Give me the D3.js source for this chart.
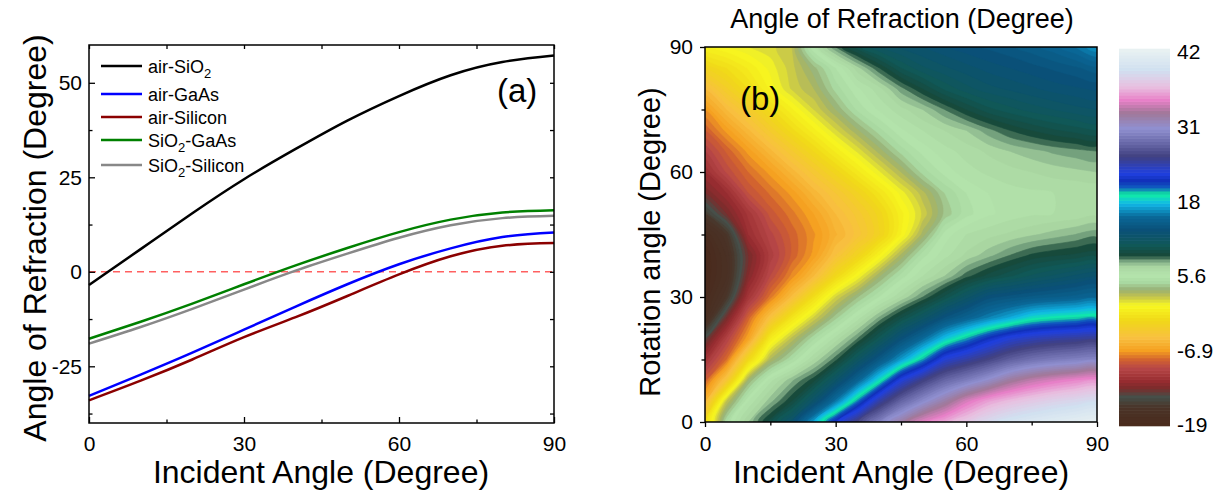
<!DOCTYPE html>
<html>
<head>
<meta charset="utf-8">
<script src="https://cdn.jsdelivr.net/npm/d3@7"></script>
<style>
body { margin: 0; background: #fff; }
text { font-family: "Liberation Sans", Arial, sans-serif; fill: #000; }
</style>
</head>
<body>
<svg id="fig" width="1224" height="497"></svg>
<script>
// ---- panel (a): refraction angle vs incident angle ----
var incA = [0, 10, 20, 30, 40, 50, 60, 70, 80, 90];
var airSiO2 = [-3.5, 6, 15.5, 24.5, 32.5, 40, 46.5, 52, 55.5, 57.2];
var airGaAs = [-32.8, -27.2, -21.4, -15.3, -9.2, -3.3, 2, 6.2, 9.2, 10.4];
var airSi = [-34, -28.8, -23.2, -17.3, -12, -6.4, -0.7, 4.1, 6.9, 7.6];
var sio2GaAs = [-17.7, -13.2, -8.4, -3.3, 1.7, 6.3, 10.5, 13.8, 15.7, 16.3];
var sio2Si = [-19, -14.6, -9.8, -4.7, 0.3, 4.8, 9, 12.3, 14.2, 14.8];

var xTicksA = [0, 30, 60, 90];
var xMinorA = [15, 45, 75];
var yTicksA = [-25, 0, 25, 50];
var yMinorA = [-37.5, -12.5, 12.5, 37.5];

// ---- panel (b): refraction angle map (rows = rotation angle, cols = incident angle) ----
var incB = [0, 5, 10, 15, 20, 25, 30, 35, 40, 45, 50, 55, 60, 65, 70, 75, 80, 85, 90];
var rotB = [0, 5, 10, 15, 20, 25, 30, 35, 40, 45, 50, 55, 60, 65, 70, 75, 80, 85, 90];
var refrMap = [
  [-2, 4.5, 7, 9.3, 11.8, 16.4, 21.1, 24.8, 28.1, 31, 33.5, 35, 36.5, 38, 39.2, 40, 40.6, 41.1, 41.5],
  [-5.5, 2, 5.5, 7.3, 9, 11.7, 15.2, 19.3, 23.5, 26.5, 28.8, 30.9, 33.2, 34.8, 35.8, 36.6, 37.3, 37.8, 38.3],
  [-8.5, -4, 3, 5.8, 7.4, 8.8, 11.4, 14.4, 17.9, 22, 24.5, 26.6, 28, 29.5, 31.3, 32.5, 33.3, 33.9, 34.3],
  [-11, -8, -2, 2.5, 4.5, 6.5, 8.3, 10.9, 13.5, 16.2, 19, 22.2, 23.5, 24.8, 26.2, 27.2, 27.8, 28.2, 28.5],
  [-14, -10, -6.5, -0.5, 2.2, 4.4, 6.2, 8, 10.2, 12.7, 14.8, 17.2, 19, 20.8, 22.2, 23, 23.5, 23.8, 24],
  [-17.5, -13, -8.3, -4.5, -1, 1.6, 3.8, 5.7, 7.6, 9.4, 11.1, 13, 14.3, 15.5, 16.6, 17.8, 18.3, 18.6, 18.8],
  [-18.5, -15.9, -10.9, -7.8, -4.8, -1.5, 1.5, 3.4, 5, 6.5, 8, 9.6, 11.2, 12.7, 13.2, 13.6, 13.9, 14.2, 14.5],
  [-19, -17, -12.5, -9.5, -7.3, -5, -2, 0.5, 2.9, 4.7, 6, 7, 8.3, 9.2, 9.9, 10.6, 11.1, 11.6, 12],
  [-19, -16.9, -13, -10.3, -8.4, -6.8, -4.5, -2.5, 0, 2.6, 4.8, 5.8, 6.6, 7.3, 8, 8.6, 8.9, 9.1, 9.3],
  [-18, -16, -11.5, -9.7, -8.3, -7.1, -5.6, -4.3, -2.6, 0, 2.7, 5.2, 6, 6.3, 6.6, 6.9, 7.2, 7.5, 7.8],
  [-15.5, -13, -10.8, -8.8, -7.7, -6.5, -5, -3.8, -2.3, -0.2, 1.6, 3.6, 4.8, 5.4, 5.7, 5.9, 6, 6.1, 6.3],
  [-13, -11.5, -9, -7.9, -6.8, -5.3, -4, -2.6, -1, 0.7, 2.3, 4, 5, 5.5, 5.8, 5.9, 6, 6, 6],
  [-11.5, -9.4, -8, -6.8, -5.3, -3.8, -2.3, -0.7, 0.9, 2.5, 4.2, 5.2, 5.8, 6.1, 6.3, 6.5, 6.7, 6.85, 7],
  [-10, -8.4, -6.8, -5.2, -3.6, -2, -0.4, 1.1, 2.7, 4.2, 5.2, 5.8, 6.2, 6.6, 7, 7.3, 7.6, 7.8, 8],
  [-8.5, -6.8, -5.1, -3.4, -1.7, -0.2, 1.4, 2.9, 4.3, 5.4, 6, 6.5, 7, 7.8, 8.5, 9, 9.4, 9.7, 10],
  [-7, -5, -3.4, -1.7, -0.1, 1.5, 3, 4.6, 5.6, 6.3, 7, 8, 9, 9.8, 10.3, 10.7, 11, 11.3, 11.5],
  [-5, -3.1, -1.5, 0.1, 1.6, 2.5, 4.2, 5.4, 6.3, 7.8, 9, 10.1, 10.8, 11.3, 11.6, 11.9, 12.2, 12.4, 12.6],
  [-2.5, -1.5, -0.4, 0.7, 1.8, 3.3, 5, 6.8, 8.5, 10, 10.9, 11.4, 11.8, 12.2, 12.5, 12.8, 13.1, 13.4, 13.8],
  [0, 0.5, 1, 1.3, 2, 5.5, 8, 9.8, 11, 11.6, 12, 12.4, 12.8, 13.1, 13.4, 13.8, 14.3, 15, 16]
];
var xTicksB = [0, 30, 60, 90];
var xMinorB = [15, 45, 75];
var cbarMin = -19, cbarMax = 42;
var cbarLabels = ["42", "31", "18", "5.6", "-6.9", "-19"];

// colour map stops (fraction along bar, bottom = 0)
var cmapPos = [0, 0.05, 0.077, 0.10, 0.12, 0.155, 0.175, 0.20, 0.235, 0.28, 0.32, 0.345, 0.362, 0.38, 0.40, 0.425, 0.438, 0.452, 0.48, 0.52, 0.555, 0.59, 0.615, 0.632, 0.65, 0.67, 0.715, 0.75, 0.79, 0.83, 0.865, 0.90, 0.945, 1];
var cmapCol = ["#4a2a1c", "#4a3428", "#45504a", "#7a2c2c", "#982c30", "#b84848", "#d06030", "#f5a020", "#f8c040", "#f0d818", "#f8f820", "#c0c050", "#98b074", "#a8d8a0", "#b4e4ac", "#a8d4a0", "#78a480", "#184838", "#105858", "#0a5078", "#0a6898", "#10b8e8", "#10f0a0", "#1060c0", "#1030b8", "#2040e0", "#404080", "#6868a8", "#9090d0", "#a07898", "#e880c8", "#e8c0e0", "#d0e0f0", "#eaf2f2"];

var svg = d3.select("#fig");
var font = "'Liberation Sans', Arial, sans-serif";
var fmt = function(d) { return String(d); };

function styleAxis(g) {
	g.select(".domain").remove();
	g.selectAll("line").attr("stroke", "#000").attr("stroke-width", 1.3);
	g.selectAll("text").attr("font-size", 21).attr("font-family", font).attr("fill", "#000");
}
// minor ticks: no labels at all
function minorAxis(g) {
	styleAxis(g);
	g.selectAll("text").remove();
}

// ================= panel (a) =================
var xa = d3.scaleLinear().domain([0, 90]).range([89, 554]);
var ya = d3.scaleLinear().domain([-40, 60]).range([423, 45]);
var ga = svg.append("g");

var series = [
	{ vals: airSiO2, color: "#000000" },
	{ vals: airGaAs, color: "#0000ff" },
	{ vals: airSi, color: "#8b0000" },
	{ vals: sio2GaAs, color: "#008000" },
	{ vals: sio2Si, color: "#888888" }
];

// zero line
ga.append("line")
	.attr("x1", xa(0)).attr("x2", xa(90))
	.attr("y1", ya(0)).attr("y2", ya(0))
	.attr("stroke", "#ff6060").attr("stroke-width", 1.5)
	.attr("stroke-dasharray", "7,5");

var line = d3.line()
	.curve(d3.curveNatural)
	.x(function(d, i) { return xa(incA[i]); })
	.y(function(d) { return ya(d); });

// back to front, black on top
[4, 3, 2, 1, 0].forEach(function(k) {
	ga.append("path")
		.datum(series[k].vals)
		.attr("fill", "none")
		.attr("stroke", series[k].color)
		.attr("stroke-width", 2.5)
		.attr("d", line);
});

ga.append("g").attr("transform", "translate(0,423)")
	.call(d3.axisBottom(xa).tickValues(xTicksA).tickSize(-6).tickPadding(13).tickFormat(fmt))
	.call(styleAxis);
ga.append("g").attr("transform", "translate(0,423)")
	.call(d3.axisBottom(xa).tickValues(xMinorA).tickSize(-3.5))
	.call(minorAxis);
ga.append("g").attr("transform", "translate(0,45)")
	.call(d3.axisTop(xa).tickValues(xTicksA.concat(xMinorA)).tickSize(-4))
	.call(minorAxis);
ga.append("g").attr("transform", "translate(89,0)")
	.call(d3.axisLeft(ya).tickValues(yTicksA).tickSize(-6).tickPadding(7).tickFormat(fmt))
	.call(styleAxis);
ga.append("g").attr("transform", "translate(89,0)")
	.call(d3.axisLeft(ya).tickValues(yMinorA).tickSize(-3.5))
	.call(minorAxis);
ga.append("g").attr("transform", "translate(554,0)")
	.call(d3.axisRight(ya).tickValues(yTicksA.concat(yMinorA)).tickSize(-4))
	.call(minorAxis);

ga.append("rect")
	.attr("x", 89).attr("y", 45).attr("width", 554 - 89).attr("height", 423 - 45)
	.attr("fill", "none").attr("stroke", "#000").attr("stroke-width", 1.5);

// legend
var legY = [66, 94, 117, 140, 165];
var legName = [["air-SiO", "2", ""], ["air-GaAs"], ["air-Silicon"], ["SiO", "2", "-GaAs"], ["SiO", "2", "-Silicon"]];
legName.forEach(function(nm, i) {
	ga.append("line")
		.attr("x1", 101).attr("x2", 142).attr("y1", legY[i]).attr("y2", legY[i])
		.attr("stroke", series[i].color).attr("stroke-width", 2.5);
	var t = ga.append("text").attr("x", 148).attr("y", legY[i] + 6.5).attr("font-size", 18);
	t.append("tspan").text(nm[0]);
	if (nm.length > 1) {
		t.append("tspan").attr("dy", 5).attr("font-size", 13).text(nm[1]);
		t.append("tspan").attr("dy", -5).text(nm[2]);
	}
});

ga.append("text").attr("x", 497).attr("y", 102).attr("font-size", 33).text("(a)");

ga.append("text")
	.attr("x", 321).attr("y", 483)
	.attr("text-anchor", "middle").attr("font-size", 32)
	.text("Incident Angle (Degree)");
ga.append("text")
	.attr("transform", "translate(35,238) rotate(-90)")
	.attr("dy", "0.35em")
	.attr("text-anchor", "middle").attr("font-size", 32)
	.text("Angle of Refraction (Degree)");

// ================= panel (b) =================
var xb = d3.scaleLinear().domain([0, 90]).range([705, 1097]);
var yb = d3.scaleLinear().domain([0, 90]).range([422, 47]);
var gb = svg.append("g");

var cmap = d3.scaleLinear()
	.domain(cmapPos.map(function(t) { return cbarMin + (cbarMax - cbarMin) * t; }))
	.range(cmapCol)
	.clamp(true);

var step = 0.5;
var levels = d3.range(cbarMin, cbarMax, step);

var flat = [];
refrMap.forEach(function(row) { row.forEach(function(v) { flat.push(v); }); });

var contours = d3.contours()
	.size([incB.length, rotB.length])
	.thresholds(levels)(flat);

var dInc = incB[1] - incB[0], dRot = rotB[1] - rotB[0];
// contour rings drawn as closed catmull-rom curves so the iso lines come out round
var ringLine = d3.line().curve(d3.curveCatmullRomClosed.alpha(0.5));
function contourPath(mp) {
	var s = "";
	mp.coordinates.forEach(function(poly) {
		poly.forEach(function(ring) {
			var pts = ring.slice(0, -1).map(function(p) {
				return [xb(incB[0] + (p[0] - 0.5) * dInc), yb(rotB[0] + (p[1] - 0.5) * dRot)];
			});
			if (pts.length > 2) s += ringLine(pts);
		});
	});
	return s;
}

gb.append("clipPath").attr("id", "mapclip")
	.append("rect")
	.attr("x", 705).attr("y", 47).attr("width", 1097 - 705).attr("height", 422 - 47);

gb.append("g").attr("clip-path", "url(#mapclip)")
	.selectAll("path")
	.data(contours)
	.enter().append("path")
	.attr("d", contourPath)
	.attr("fill", function(d) { return cmap(d.value + step / 2); })
	.attr("stroke", function(d) { return cmap(d.value + step / 2); })
	.attr("stroke-width", 0.6);

gb.append("g").attr("transform", "translate(0,422)")
	.call(d3.axisBottom(xb).tickValues(xTicksB).tickSize(5).tickPadding(9).tickFormat(fmt))
	.call(styleAxis);
gb.append("g").attr("transform", "translate(0,422)")
	.call(d3.axisBottom(xb).tickValues(xMinorB).tickSize(3.5))
	.call(minorAxis);
gb.append("g").attr("transform", "translate(705,0)")
	.call(d3.axisLeft(yb).tickValues(xTicksB).tickSize(5).tickPadding(7).tickFormat(fmt))
	.call(styleAxis);
gb.append("g").attr("transform", "translate(705,0)")
	.call(d3.axisLeft(yb).tickValues(xMinorB).tickSize(3.5))
	.call(minorAxis);

gb.append("rect")
	.attr("x", 705).attr("y", 47).attr("width", 1097 - 705).attr("height", 422 - 47)
	.attr("fill", "none").attr("stroke", "#000").attr("stroke-width", 1.5);

gb.append("text").attr("x", 740).attr("y", 110).attr("font-size", 33).text("(b)");

gb.append("text")
	.attr("x", 902).attr("y", 28)
	.attr("text-anchor", "middle").attr("font-size", 27)
	.text("Angle of Refraction (Degree)");
gb.append("text")
	.attr("x", 901).attr("y", 483)
	.attr("text-anchor", "middle").attr("font-size", 32)
	.text("Incident Angle (Degree)");
gb.append("text")
	.attr("transform", "translate(650,242) rotate(-90)")
	.attr("dy", "0.35em")
	.attr("text-anchor", "middle").attr("font-size", 29)
	.text("Rotation angle (Degree)");

// colour bar
var cy = d3.scaleLinear().domain([cbarMin, cbarMax]).range([426, 49]);
gb.selectAll(".cb")
	.data(levels)
	.enter().append("rect")
	.attr("class", "cb")
	.attr("x", 1119).attr("width", 1170 - 1119)
	.attr("y", function(d) { return cy(d + step) - 0.3; })
	.attr("height", function(d) { return cy(d) - cy(d + step) + 0.6; })
	.attr("fill", function(d) { return cmap(d + step / 2); });

var cbl = d3.scalePoint().domain(cbarLabels).range([52, 425]);
gb.selectAll(".cbl")
	.data(cbarLabels)
	.enter().append("text")
	.attr("class", "cbl")
	.attr("x", 1177).attr("y", function(d) { return cbl(d); })
	.attr("dy", "0.35em")
	.attr("font-size", 21)
	.text(function(d) { return d; });
</script>
</body>
</html>
